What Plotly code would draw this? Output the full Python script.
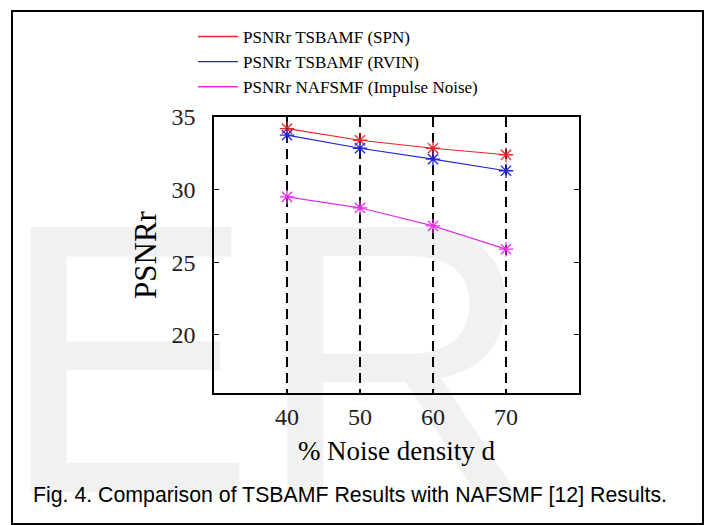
import plotly.graph_objects as go

# Noise density (%) and restored PSNR values for each filter
noise_density = [40, 50, 60, 70]
psnr_tsbamf_spn = [34.2, 33.4, 32.85, 32.4]
psnr_tsbamf_rvin = [33.75, 32.85, 32.1, 31.3]
psnr_nafsmf_impulse = [29.5, 28.75, 27.5, 25.9]

series_names = [
    "PSNRr TSBAMF (SPN)",
    "PSNRr TSBAMF (RVIN)",
    "PSNRr NAFSMF (Impulse Noise)",
]
series_values = [psnr_tsbamf_spn, psnr_tsbamf_rvin, psnr_nafsmf_impulse]
series_colors = ["#e8262a", "#2424d8", "#e62ee6"]

x_ticks = [40, 50, 60, 70]
y_ticks = [20, 25, 30, 35]

W, H = 707, 525
L, R, T, B = 214, 128, 117, 132
PW, PH = W - L - R, H - T - B


def px_to_paper(px, py):
    return (px - L) / PW, (H - B - py) / PH


serif = "Liberation Serif, Times New Roman, serif"

fig = go.Figure()
for name, vals, col in zip(series_names, series_values, series_colors):
    # data curve with asterisk markers
    fig.add_trace(go.Scatter(
        x=noise_density, y=vals, name=name, mode="lines+markers",
        line=dict(color=col, width=1.2), showlegend=False,
        marker=dict(symbol="asterisk-open", size=12,
                    line=dict(color=col, width=1.3)),
    ))
    # plain line sample for the legend
    fig.add_trace(go.Scatter(
        x=[None], y=[None], name=name, mode="lines",
        line=dict(color=col, width=1.4), showlegend=True,
    ))

# outer figure frame
fx0, fy0 = px_to_paper(12, 11)
fx1, fy1 = px_to_paper(703, 524)
shapes = [dict(type="rect", xref="paper", yref="paper",
               x0=fx0, y0=fy0, x1=fx1, y1=fy1,
               line=dict(color="black", width=2), layer="below")]

cx, cy = px_to_paper(350, 495)
wx, wy = px_to_paper(-3, 141)
annotations = [
    dict(text="ER", xref="paper", yref="paper", x=wx, y=wy,
         xanchor="left", yanchor="top", showarrow=False,
         font=dict(family="Liberation Sans, Arial, sans-serif", size=385,
                   color="rgba(0,0,0,0.055)")),
    dict(text="Fig. 4. Comparison of TSBAMF Results with NAFSMF [12] Results.",
         xref="paper", yref="paper", x=cx, y=cy,
         xanchor="center", yanchor="middle", showarrow=False,
         font=dict(family="Liberation Sans, Arial, sans-serif", size=21.3,
                   color="black")),
]

lx, ly = px_to_paper(193, 19)

fig.update_layout(
    width=W, height=H,
    margin=dict(l=L, r=R, t=T, b=B, pad=0),
    paper_bgcolor="white", plot_bgcolor="rgba(0,0,0,0)",
    showlegend=True,
    legend=dict(x=lx, y=ly, xanchor="left", yanchor="top",
                bgcolor="rgba(0,0,0,0)", borderwidth=0,
                font=dict(family=serif, size=17, color="black"),
                tracegroupgap=0, itemwidth=40),
    shapes=shapes,
    annotations=annotations,
    xaxis=dict(
        range=[30, 80], tickvals=x_ticks, ticktext=[str(v) for v in x_ticks],
        showgrid=True, gridcolor="black", gridwidth=1.6, griddash="10px,6px",
        zeroline=False, showline=True, linecolor="black", linewidth=1.5,
        mirror=True, ticks="", ticklabelstandoff=1,
        tickfont=dict(family=serif, size=24, color="#222"),
        title=dict(text="% Noise density d", standoff=13,
                   font=dict(family=serif, size=27, color="black")),
    ),
    yaxis=dict(
        range=[16, 35], tickvals=y_ticks,
        showgrid=False, zeroline=False, showline=True, linecolor="black",
        linewidth=1.5, mirror="ticks", ticks="inside", ticklen=5,
        tickcolor="black", ticklabelstandoff=12,
        tickfont=dict(family=serif, size=24, color="#222"),
        title=dict(text="PSNRr", standoff=6,
                   font=dict(family=serif, size=31, color="black")),
    ),
)

fig.write_html("out.html")
